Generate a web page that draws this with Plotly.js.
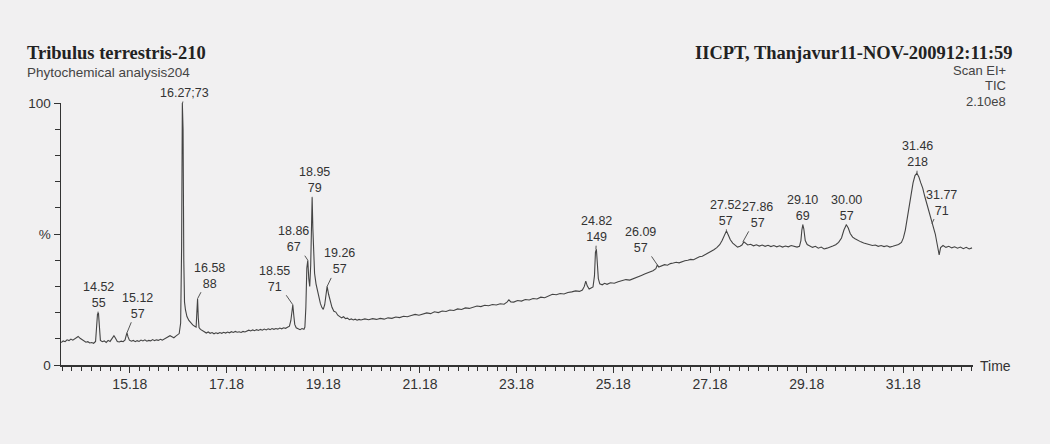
<!DOCTYPE html>
<html>
<head>
<meta charset="utf-8">
<script src="https://cdn.plot.ly/plotly-3.0.1.min.js"></script>
<style>html,body{margin:0;padding:0;background:#f1f0f1;}#chart{width:1050px;height:444px;}</style>
</head>
<body>
<div id="chart"></div>
<script>
// Retention time (min) and relative intensity (%)
const times = [
13.76,13.80,13.84,13.88,13.92,13.96,14.00,14.04,14.08,14.11,14.15,14.19,14.23,14.27,14.31,14.35,14.39,14.43,14.47,14.49,
14.51,14.53,14.55,14.57,14.61,14.65,14.69,14.73,14.77,14.81,14.85,14.88,14.92,14.96,15.00,15.04,15.08,15.10,15.12,15.14,
15.17,15.21,15.25,15.29,15.33,15.37,15.41,15.45,15.49,15.53,15.57,15.61,15.65,15.69,15.73,15.77,15.81,15.85,15.89,15.93,
15.97,16.01,16.05,16.09,16.13,16.17,16.20,16.23,16.25,16.265,16.28,16.295,16.31,16.33,16.36,16.40,16.44,16.48,16.52,16.55,
16.565,16.58,16.595,16.61,16.64,16.68,16.72,16.76,16.80,16.84,16.88,16.92,16.96,17.00,17.04,17.08,17.12,17.16,17.20,17.24,
17.28,17.32,17.36,17.40,17.44,17.48,17.52,17.56,17.60,17.64,17.68,17.72,17.76,17.80,17.84,17.88,17.92,17.96,18.00,18.04,
18.08,18.12,18.16,18.20,18.24,18.28,18.32,18.36,18.40,18.44,18.48,18.51,18.53,18.55,18.57,18.59,18.62,18.66,18.70,18.74,
18.78,18.80,18.82,18.84,18.86,18.88,18.90,18.92,18.935,18.95,18.965,18.98,19.00,19.03,19.06,19.09,19.12,19.15,19.18,19.21,
19.24,19.26,19.29,19.32,19.36,19.40,19.44,19.48,19.52,19.56,19.60,19.64,19.68,19.72,19.76,19.80,19.84,19.88,19.92,19.96,
20.04,20.12,20.20,20.28,20.36,20.44,20.52,20.60,20.68,20.76,20.84,20.92,21.00,21.08,21.16,21.24,21.32,21.40,21.48,21.56,
21.64,21.72,21.80,21.88,21.96,22.04,22.12,22.20,22.28,22.36,22.44,22.52,22.60,22.68,22.76,22.84,22.92,22.98,23.02,23.06,
23.12,23.20,23.28,23.36,23.44,23.52,23.60,23.68,23.76,23.84,23.92,24.00,24.08,24.16,24.24,24.32,24.40,24.48,24.54,24.58,
24.61,24.64,24.68,24.72,24.76,24.79,24.81,24.83,24.85,24.87,24.90,24.95,25.00,25.05,25.12,25.20,25.28,25.36,25.44,25.52,
25.60,25.68,25.76,25.84,25.92,26.00,26.06,26.09,26.12,26.18,26.24,26.30,26.36,26.42,26.48,26.54,26.60,26.66,26.72,26.78,
26.84,26.90,26.96,27.02,27.08,27.14,27.20,27.26,27.32,27.38,27.43,27.48,27.52,27.56,27.60,27.65,27.70,27.75,27.80,27.84,
27.88,27.92,27.96,28.02,28.08,28.14,28.20,28.26,28.32,28.38,28.44,28.50,28.56,28.62,28.68,28.74,28.80,28.86,28.92,28.98,
29.03,29.06,29.08,29.10,29.12,29.15,29.19,29.24,29.30,29.36,29.42,29.48,29.54,29.60,29.66,29.72,29.78,29.84,29.90,29.95,
30.00,30.04,30.08,30.13,30.18,30.24,30.30,30.36,30.42,30.48,30.54,30.60,30.66,30.72,30.78,30.84,30.90,30.96,31.02,31.08,
31.14,31.18,31.22,31.26,31.30,31.34,31.38,31.42,31.46,31.50,31.54,31.58,31.62,31.66,31.70,31.74,31.77,31.80,31.84,31.88,
31.92,31.95,32.00,32.06,32.12,32.18,32.24,32.30,32.36,32.42,32.48,32.54,32.60
];
const intensity = [
8.6,9.2,8.9,9.6,9.3,9.9,9.5,10.1,10.6,10.9,10.2,9.6,9.1,8.7,8.9,8.4,8.6,8.3,9.0,13.0,
19.5,19.8,12.5,9.4,8.9,9.2,8.6,9.4,9.0,10.2,11.2,10.3,9.0,8.8,9.1,8.9,9.6,11.0,12.3,10.8,
9.5,9.1,9.4,8.9,9.3,9.0,9.5,9.2,9.6,9.1,9.4,9.2,9.7,9.3,9.6,9.4,9.8,9.5,9.9,10.2,
10.9,11.2,10.8,10.4,11.0,11.4,12.0,16.0,45.0,100,90,40,24,21,18.5,17.0,16.0,15.3,14.8,14.5,
20.0,25.3,18.0,14.3,13.6,13.0,12.7,12.2,12.6,12.1,12.4,11.9,12.3,12.0,12.4,12.1,12.5,12.2,12.6,12.3,
12.7,12.4,12.8,12.5,12.7,12.4,12.8,12.6,13.0,13.3,13.0,13.4,13.1,13.5,13.2,13.6,13.3,13.7,13.4,13.8,
13.5,13.9,13.6,13.9,13.7,14.1,13.8,14.2,14.0,14.4,14.8,17.0,21.5,23.0,19.0,15.5,14.2,13.8,13.5,13.9,
13.6,14.5,22.0,37.0,40.0,33.0,30.0,38.0,55.0,64.0,52.0,40.0,35.0,31.0,28.0,25.5,23.5,22.0,21.2,23.0,
28.5,30.0,27.0,24.5,22.0,20.5,20.2,19.0,18.6,18.0,18.4,17.7,17.9,17.3,17.6,17.2,17.5,17.1,17.4,17.2,
17.6,17.3,17.7,17.4,17.8,17.5,18.0,17.8,18.3,18.1,18.6,18.4,18.9,19.3,19.0,19.5,19.9,19.6,20.3,20.0,
20.6,20.4,21.0,20.8,21.4,21.2,21.8,21.6,22.1,22.5,22.3,22.8,22.6,23.1,22.9,23.4,23.2,24.0,24.9,24.1,
24.0,24.6,24.4,25.0,24.8,25.4,25.2,25.9,25.7,26.4,27.0,26.8,27.3,27.1,27.7,27.9,28.3,28.1,28.6,30.0,
32.0,30.2,29.0,29.4,29.8,34.0,43.0,44.2,40.0,33.0,31.0,30.6,31.2,30.8,31.4,31.2,31.8,32.1,32.6,32.4,
33.1,33.6,34.2,34.8,35.3,36.0,36.8,38.2,37.4,37.8,38.3,38.1,38.7,38.9,39.2,39.0,39.5,39.8,40.0,40.3,
40.2,40.9,41.3,41.5,42.1,42.6,43.2,44.0,44.8,45.9,47.5,49.8,51.2,49.5,47.8,46.5,45.6,45.0,45.3,45.8,
47.0,46.2,45.8,46.1,45.5,45.9,45.4,45.8,45.3,45.7,45.2,45.6,45.1,45.5,45.0,45.4,45.1,45.6,45.2,45.0,
45.3,47.5,51.5,53.5,52.0,47.5,46.0,45.6,44.9,45.3,44.6,45.0,44.3,44.6,44.9,45.4,45.9,46.8,48.5,51.5,
53.5,52.3,50.2,48.8,48.2,47.5,47.0,46.6,46.3,46.0,45.6,45.8,45.3,45.6,45.2,45.5,45.0,45.3,45.6,46.0,
46.8,48.5,51.5,55.5,60.0,65.0,69.5,72.3,73.2,71.8,69.5,67.5,64.5,62.0,59.5,57.0,55.0,53.0,50.0,46.0,
42.0,44.8,45.6,44.9,45.3,44.7,45.1,44.6,45.0,44.4,44.9,44.3,44.7
];

// Labelled peaks: retention time, base ion (m/z), apex intensity (%)
const peakTimes   = [14.52, 15.12, 16.27, 16.58, 18.55, 18.86, 18.95, 19.26, 24.82, 26.09, 27.52, 27.86, 29.10, 30.00, 31.46, 31.77];
const peakIons    = [55, 57, 73, 88, 71, 67, 79, 57, 149, 57, 57, 57, 69, 57, 218, 71];
const peakHeights = [19.8, 12.3, 100, 25.3, 23.0, 40.0, 64.0, 30.0, 44.2, 38.2, 51.2, 47.0, 53.5, 53.5, 73.2, 54.0];

// Axis ticks
const xTickVals = [15.18, 17.18, 19.18, 21.18, 23.18, 25.18, 27.18, 29.18, 31.18];
const xTickText = ['15.18', '17.18', '19.18', '21.18', '23.18', '25.18', '27.18', '29.18', '31.18'];
const yTickVals = [0, 50, 100];
const yTickText = ['0', '%', '100'];

// Label placement (pixel offsets of label from apex) - layout only
const labelOffsets = [[1,-18],[11,-27],[2,-10],[12,-23],[-18,-26],[-14,-21],[2,-17],[12,-25],[1,-20],[-17,-25],[-1,-18],[15,-27],[0,-17],[0,-17],[1,-19],[10,-21]];

const textColor = '#333';
const sans = 'Liberation Sans, Arial, sans-serif';
const serif = 'Liberation Serif, Times New Roman, serif';

const peakAnnotations = peakTimes.map((t, i) => ({
  x: t, y: peakHeights[i], xref: 'x', yref: 'y',
  text: (i === 2) ? t.toFixed(2) + ';' + peakIons[i] : t.toFixed(2) + '<br>' + peakIons[i],
  showarrow: true, arrowhead: 0, arrowwidth: 1, arrowcolor: '#555',
  ax: labelOffsets[i][0], ay: labelOffsets[i][1], standoff: 0,
  font: {family: sans, size: 12.5, color: textColor},
  align: 'center'
}));

function px2paperX(px) { return (px - 61) / 912; }
function px2paperY(py) { return (365 - py) / 262; }

const headerAnnotations = [
  {text: '<b>Tribulus terrestris-210</b>', x: px2paperX(25), y: px2paperY(53), xanchor: 'left', yanchor: 'middle',
   font: {family: serif, size: 18.5, color: '#222'}},
  {text: 'Phytochemical analysis204', x: px2paperX(25), y: px2paperY(73), xanchor: 'left', yanchor: 'middle',
   font: {family: sans, size: 13.5, color: '#444'}},
  {text: '<b>IICPT, Thanjavur11-NOV-200912:11:59</b>', x: px2paperX(1015), y: px2paperY(53), xanchor: 'right', yanchor: 'middle',
   font: {family: serif, size: 18.5, color: '#222'}},
  {text: 'Scan EI+', x: px2paperX(1008), y: px2paperY(70), xanchor: 'right', yanchor: 'middle',
   font: {family: sans, size: 13, color: '#444'}},
  {text: 'TIC', x: px2paperX(1008), y: px2paperY(86), xanchor: 'right', yanchor: 'middle',
   font: {family: sans, size: 13, color: '#444'}},
  {text: '2.10e8', x: px2paperX(1008), y: px2paperY(101), xanchor: 'right', yanchor: 'middle',
   font: {family: sans, size: 13, color: '#444'}},
  {text: 'Time', x: px2paperX(978), y: px2paperY(366), xanchor: 'left', yanchor: 'middle',
   font: {family: sans, size: 14, color: textColor}}
].map(a => Object.assign({xref: 'paper', yref: 'paper', showarrow: false}, a));

const trace = {
  x: times, y: intensity, type: 'scatter', mode: 'lines',
  line: {color: '#444', width: 1.1}, hoverinfo: 'x+y'
};

const layout = {
  width: 1050, height: 444,
  margin: {l: 61, r: 77, t: 103, b: 79, pad: 0},
  paper_bgcolor: '#f1f0f1', plot_bgcolor: '#f1f0f1',
  showlegend: false,
  xaxis: {
    range: [13.755, 32.62], showgrid: false, zeroline: false,
    showline: true, linecolor: '#333', linewidth: 1.5,
    tickmode: 'array', tickvals: xTickVals, ticktext: xTickText,
    ticks: 'outside', ticklen: 6, tickwidth: 1, tickcolor: '#333',
    tickfont: {family: sans, size: 14, color: textColor},
    minor: {tickmode: 'linear', tick0: 15.18, dtick: 0.2, ticks: 'outside', ticklen: 4, tickcolor: '#333', showgrid: false}
  },
  yaxis: {
    range: [0, 100], showgrid: false, zeroline: false,
    showline: true, linecolor: '#333', linewidth: 1.5,
    tickmode: 'array', tickvals: yTickVals, ticktext: yTickText,
    ticks: 'outside', ticklen: 6, tickwidth: 1, tickcolor: '#333',
    tickfont: {family: sans, size: 13.5, color: textColor},
    minor: {tickmode: 'linear', tick0: 0, dtick: 10, ticks: 'outside', ticklen: 5, tickcolor: '#333', showgrid: false}
  },
  annotations: peakAnnotations.concat(headerAnnotations)
};

Plotly.newPlot('chart', [trace], layout, {staticPlot: true, displayModeBar: false});
</script>
</body>
</html>
